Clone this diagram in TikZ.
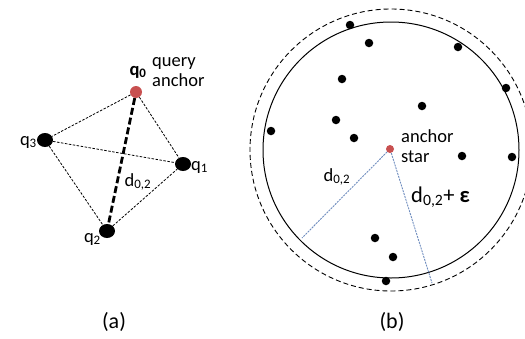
\documentclass[tikz,border=0pt]{standalone}
\usepackage{fontspec}
\setmainfont{Carlito}
\usetikzlibrary{shapes.geometric}
\begin{document}
\begin{tikzpicture}[x=1pt,y=-1pt,
  qnode/.style={ellipse,fill=black,minimum width=16pt,minimum height=14pt,inner sep=0pt},
  dotnode/.style={circle,fill=black,minimum size=8.5pt,inner sep=0pt},
  thinedge/.style={line width=0.8pt,dash pattern=on 2.5pt off 1.5pt},
  thickedge/.style={line width=2.8pt,dash pattern=on 7pt off 3pt},
  blueedge/.style={draw={rgb,255:red,110;green,140;blue,190},line width=0.9pt,dash pattern=on 2pt off 1pt},
  lbl/.style={font=\fontsize{18.5}{20}\selectfont,inner sep=0pt},
  biglbl/.style={font=\fontsize{22.5}{25}\selectfont,inner sep=0pt},
  captext/.style={font=\fontsize{22}{25}\selectfont,inner sep=0pt}]
\useasboundingbox (0,0) rectangle (525,338);
% panel (a)
\node[circle,fill={rgb,255:red,200;green,80;blue,80},minimum size=12pt,inner sep=0pt] (q0) at (136,92) {};
\node[qnode] (q3) at (45,140) {};
\node[qnode] (q1) at (183,164) {};
\node[qnode] (q2) at (107,231) {};
\draw[thinedge] (q0) -- (q3);
\draw[thinedge] (q0) -- (q1);
\draw[thinedge] (q3) -- (q1);
\draw[thinedge] (q3) -- (q2);
\draw[thinedge] (q2) -- (q1);
\draw[thickedge] (q0) -- (q2);
\node[lbl,font=\fontsize{18.5}{20}\selectfont\bfseries] (lq0) at (138,72) {q\textsubscript{0}};
\node[lbl,anchor=west,align=left] (lqa) at (152,72) {query\\[0pt]anchor};
\node[lbl,anchor=east] (lq3) at (37,142) {q\textsubscript{3}};
\node[lbl,anchor=west] (lq1) at (191,167) {q\textsubscript{1}};
\node[lbl,anchor=east] (lq2) at (101,239) {q\textsubscript{2}};
\node[lbl] (ld) at (138,182) {d\textsubscript{0,2}};
\node[captext] (ca) at (114,322) {(a)};
% panel (b)
\node[circle,draw,line width=1pt,minimum size=256pt,inner sep=0pt] (sc) at (391,150) {};
\node[circle,draw,line width=0.9pt,dash pattern=on 5pt off 3pt,minimum size=282pt,inner sep=0pt] (dc) at (391,150) {};
\node[circle,fill={rgb,255:red,200;green,80;blue,80},minimum size=8pt,inner sep=0pt] (star) at (390,149) {};
\coordinate (e1) at (302,238);
\coordinate (e2) at (432,283);
\draw[blueedge] (star) -- (e1);
\draw[blueedge] (star) -- (e2);
\foreach \n/\px/\py in {p1/350/25,p2/369/43,p3/458/47,p4/506/88,p5/342/79,p6/422/106,p7/336/120,p8/271/131,p9/354/138,p10/462/156,p11/512/157,p12/375/238,p13/393/257,p14/386/281}
  \node[dotnode] (\n) at (\px,\py) {};
\node[lbl,anchor=west,align=left] (lstar) at (401,146) {anchor\\[0pt]star};
\node[lbl] (ld1) at (337,177) {d\textsubscript{0,2}};
\node[biglbl,anchor=west] (ld2) at (411,197) {d\textsubscript{0,2}+ \textbf{ε}};
\node[captext] (cb) at (392,322) {(b)};
\end{tikzpicture}
\end{document}
